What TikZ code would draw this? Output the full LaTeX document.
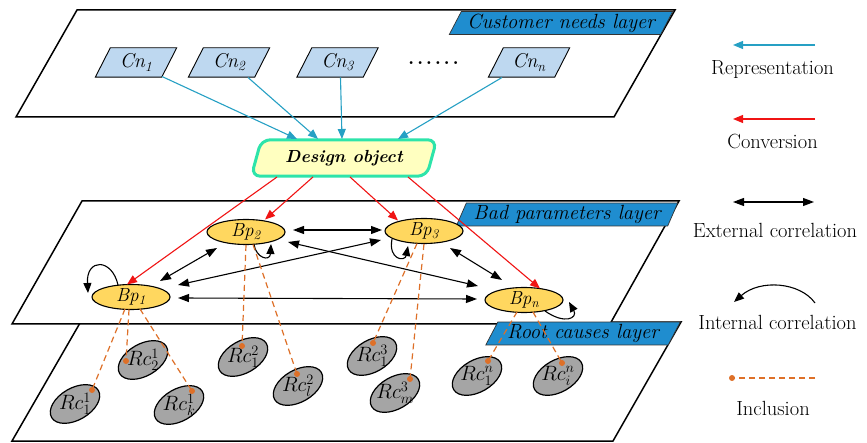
\documentclass[tikz,border=0pt]{standalone}
\usepackage{graphicx}
\usetikzlibrary{arrows.meta,shapes.geometric,calc}

\definecolor{tagblue}{RGB}{31,141,207}
\definecolor{cnblue}{RGB}{190,216,240}
\definecolor{doyellow}{RGB}{255,255,192}
\definecolor{dogreen}{RGB}{45,228,170}
\definecolor{bpgold}{RGB}{255,215,95}
\definecolor{rcgray}{RGB}{165,165,165}
\definecolor{repteal}{RGB}{38,160,196}
\definecolor{convred}{RGB}{240,20,20}
\definecolor{incorange}{RGB}{222,112,40}

\pgfdeclarelayer{planes}
\pgfdeclarelayer{shapes}
\pgfsetlayers{planes,shapes,main}

% slanted (parallelogram) outline behind a rectangular text node
\newcommand\slantfill[3]{%
  \begin{pgfonlayer}{shapes}
    \draw[#3] ([xshift=#2]#1.north west) -- ([xshift=#2]#1.north east)
      -- ([xshift=-#2]#1.south east) -- ([xshift=-#2]#1.south west) -- cycle;
  \end{pgfonlayer}}

\begin{document}
\begin{tikzpicture}[x=1pt,y=-1pt,line join=round,
  plane/.style={draw=black,line width=1.5pt,fill=white},
  tag/.style={draw=black!80,line width=0.7pt,fill=tagblue},
  tagtext/.style={minimum width=#1,minimum height=22.5pt,inner sep=0pt,
    font=\fontsize{20.5}{22}\selectfont\itshape},
  cnbox/.style={minimum width=66pt,minimum height=29pt,inner sep=0pt,
    font=\fontsize{20}{22}\selectfont\itshape},
  cnshape/.style={draw=black,line width=0.9pt,fill=cnblue},
  dobox/.style={minimum width=175pt,minimum height=36pt,inner sep=0pt,
    font=\fontsize{17.5}{20}\selectfont\bfseries\itshape},
  doshape/.style={draw=dogreen,line width=3pt,fill=doyellow,rounded corners=9pt},
  bpnode/.style={ellipse,draw=black,line width=1.1pt,fill=bpgold,
    minimum width=78pt,minimum height=25pt,inner sep=0pt,
    font=\fontsize{19}{20}\selectfont\itshape},
  rcnode/.style={ellipse,draw=black,line width=1.2pt,fill=rcgray,
    minimum width=54pt,minimum height=32pt,inner sep=0pt},
  rctext/.style={inner sep=0pt,font=\fontsize{21}{22}\selectfont},
  incdot/.style={circle,fill=incorange,inner sep=0pt,minimum size=6pt},
  rep/.style={draw=repteal,line width=1.1pt,-{Triangle[length=10pt,width=8pt]}},
  conv/.style={draw=convred,line width=1.1pt,-{Triangle[length=10pt,width=8pt]}},
  ext/.style={draw=black,line width=1.1pt,
    {Triangle[length=11pt,width=8pt]}-{Triangle[length=11pt,width=8pt]}},
  intl/.style={draw=black,line width=1.1pt,-{Triangle[length=10pt,width=8pt]}},
  inc/.style={draw=incorange,line width=1.2pt,dash pattern=on 6pt off 4pt},
  legendtext/.style={font=\fontsize{20.5}{24}\selectfont,anchor=base,inner sep=0pt}
]
\useasboundingbox (0,0) rectangle (867,443);

% ---------- the three layers ----------
\begin{pgfonlayer}{planes}
  \draw[plane] (80,323) -- (681,322) -- (613,441) -- (12,441) -- cycle;
  \draw[plane] (82,201) -- (679,201) -- (610,324) -- (12,324) -- cycle;
  \draw[plane] (77,10) -- (675,10) -- (614,117) -- (16,117) -- cycle;
\end{pgfonlayer}

\node[tagtext=211pt] (custtag) at (561,23) {Customer needs layer};
\slantfill{custtag}{6pt}{tag}
\node[tagtext=211pt] (badtag) at (567,214.5) {Bad parameters layer};
\slantfill{badtag}{5pt}{tag}
\node[tagtext=182pt] (roottag) at (583,333.5) {Root causes layer};
\slantfill{roottag}{6pt}{tag}

% ---------- customer needs ----------
\node[cnbox] (cn1) at (136,62.5) {Cn\textsubscript{1}};
\slantfill{cn1}{7.5pt}{cnshape}
\node[cnbox] (cn2) at (229,62.5) {Cn\textsubscript{2}};
\slantfill{cn2}{7.5pt}{cnshape}
\node[cnbox] (cn3) at (337.5,62.5) {Cn\textsubscript{3}};
\slantfill{cn3}{7.5pt}{cnshape}
\node[cnbox] (cnn) at (529,62.5) {Cn\textsubscript{n}};
\slantfill{cnn}{7.5pt}{cnshape}
\node[anchor=base,inner sep=0pt,font=\fontsize{20}{22}\selectfont\bfseries]
  (dots) at (433.5,65) {.\kern2.6pt.\kern2.6pt.\kern2.6pt.\kern2.6pt.\kern2.6pt.};

% ---------- design object ----------
\node[dobox] (dobj) at (344,158) {Design object};
\slantfill{dobj}{5pt}{doshape}

\draw[rep] ($(cn1)+(26,14)$) -- ($(dobj)+(-47,-19)$);
\draw[rep] ($(cn2)+(19,15)$) -- ($(dobj)+(-26,-19)$);
\draw[rep] ($(cn3)+(3,15)$)  -- ($(dobj)+(-2,-19)$);
\draw[rep] ($(cnn)+(-27,15)$) -- ($(dobj)+(54,-19)$);

% ---------- bad parameters ----------
\node[bpnode] (bp1) at (131,297) {Bp\textsubscript{1}};
\node[bpnode] (bp2) at (246,232) {Bp\textsubscript{2}};
\node[bpnode] (bp3) at (424,231) {Bp\textsubscript{3}};
\node[bpnode] (bpn) at (524,300) {Bp\textsubscript{n}};

\draw[conv] ($(dobj)+(-67,19)$) -- ($(bp1)+(-4,-12.5)$);
\draw[conv] ($(dobj)+(-31,19)$) -- ($(bp2)+(19,-12.5)$);
\draw[conv] ($(dobj)+(6,19)$)   -- ($(bp3)+(-26,-10.5)$);
\draw[conv] ($(dobj)+(64,19)$)  -- ($(bpn)+(16,-11.5)$);

\draw[ext] ($(bp1)+(29,-16)$) -- ($(bp2)+(-29,16)$);
\draw[ext] ($(bp2)+(47,-2)$)  -- ($(bp3)+(-42,-1)$);
\draw[ext] ($(bp1)+(47,-12)$) -- ($(bp3)+(-43,9)$);
\draw[ext] ($(bp2)+(42,10)$)  -- ($(bpn)+(-46,-14)$);
\draw[ext] ($(bp3)+(26,17)$)  -- ($(bpn)+(-22,-20)$);
\draw[ext] ($(bp1)+(47,1)$)   -- ($(bpn)+(-47,-1)$);

\draw[intl] ($(bp1)+(-13,-12)$) .. controls ($(bp1)+(-19,-39)$) and ($(bp1)+(-45,-39)$) .. ($(bp1)+(-43,-4)$);
\draw[intl] ($(bp2)+(8,12.5)$) .. controls ($(bp2)+(10,26)$) and ($(bp2)+(24,30)$) .. ($(bp2)+(25,12)$);
\draw[intl] ($(bp3)+(-32,8)$) .. controls ($(bp3)+(-36,29)$) and ($(bp3)+(-19,31)$) .. ($(bp3)+(-16,15)$);
\draw[intl] ($(bpn)+(21,11)$) .. controls ($(bpn)+(41,25)$) and ($(bpn)+(54,18)$) .. ($(bpn)+(45,2)$);

% ---------- root causes ----------
\node[rcnode,rotate=30] (rc11) at (75,404) {};
\node[rctext] (rc11t) at (rc11) {$Rc_1^1$};
\node[rcnode,rotate=30] (rc21) at (143,360) {};
\node[rctext] (rc21t) at (rc21) {$Rc_2^1$};
\node[rcnode,rotate=30] (rck1) at (179,405) {};
\node[rctext] (rck1t) at (rck1) {$Rc_k^1$};
\node[rcnode,rotate=30] (rc12) at (243,357) {};
\node[rctext] (rc12t) at (rc12) {$Rc_1^2$};
\node[rcnode,rotate=30] (rcl2) at (298,386) {};
\node[rctext] (rcl2t) at (rcl2) {$Rc_l^2$};
\node[rcnode,rotate=30] (rc13) at (372,356) {};
\node[rctext] (rc13t) at (rc13) {$Rc_1^3$};
\node[rcnode,rotate=30] (rcm3) at (395,393) {};
\node[rctext] (rcm3t) at (rcm3) {$Rc_m^3$};
\node[rcnode,rotate=30] (rc1n) at (477,376) {};
\node[rctext] (rc1nt) at (rc1n) {$Rc_1^n$};
\node[rcnode,rotate=30] (rcin) at (558,376) {};
\node[rctext] (rcint) at (rcin) {$Rc_i^n$};

\coordinate (c11) at ($(rc11)+(17,-14)$);
\coordinate (c21) at ($(rc21)+(-17,1)$);
\coordinate (ck1) at ($(rck1)+(13,-14)$);
\coordinate (c12) at ($(rc12)+(-1,-11)$);
\coordinate (cl2) at ($(rcl2)+(-1,-12)$);
\coordinate (c13) at ($(rc13)+(1,-13)$);
\coordinate (cm3) at ($(rcm3)+(15,-14)$);
\coordinate (c1n) at ($(rc1n)+(11,-15)$);
\coordinate (cin) at ($(rcin)+(4,-13)$);

\draw[inc] ($(bp1)+(-6,12)$) -- (c11);
\draw[inc] ($(bp1)+(-2,12.5)$) -- (c21);
\draw[inc] ($(bp1)+(9,12)$) -- (ck1);
\draw[inc] ($(bp2)+(0,13)$) -- (c12);
\draw[inc] ($(bp2)+(7,12.5)$) -- (cl2);
\draw[inc] ($(bp3)+(-7,12.5)$) -- (c13);
\draw[inc] ($(bp3)+(0,13)$) -- (cm3);
\draw[inc] ($(bpn)+(-7,12)$) -- (c1n);
\draw[inc] ($(bpn)+(9,12)$) -- (cin);

\foreach \c in {c11,c21,ck1,c12,cl2,c13,cm3,c1n,cin}
  \node[incdot] (d\c) at (\c) {};

% ---------- legend ----------
\coordinate (repA) at (815,45);  \coordinate (repB) at (733,45);
\draw[rep] (repA) -- (repB);
\node[legendtext] (repL) at (772.5,75) {Representation};

\coordinate (convA) at (815,119); \coordinate (convB) at (733,119);
\draw[conv] (convA) -- (convB);
\node[legendtext] (convL) at (772.5,149) {Conversion};

\coordinate (extA) at (733,202); \coordinate (extB) at (814,202);
\draw[ext] (extA) -- (extB);
\node[legendtext] (extL) at (775,238) {External correlation};

\coordinate (intA) at (815,303); \coordinate (intB) at (734,302);
\draw[intl] (intA) .. controls (800,282) and (760,279) .. (intB);
\node[legendtext] (intL) at (777.5,330) {Internal correlation};

\coordinate (incA) at (815,378); \coordinate (incB) at (732,378);
\draw[inc] (incA) -- (incB);
\node[incdot] (incD) at (incB) {};
\node[legendtext] (incL) at (773,415) {Inclusion};
\end{tikzpicture}
\end{document}
